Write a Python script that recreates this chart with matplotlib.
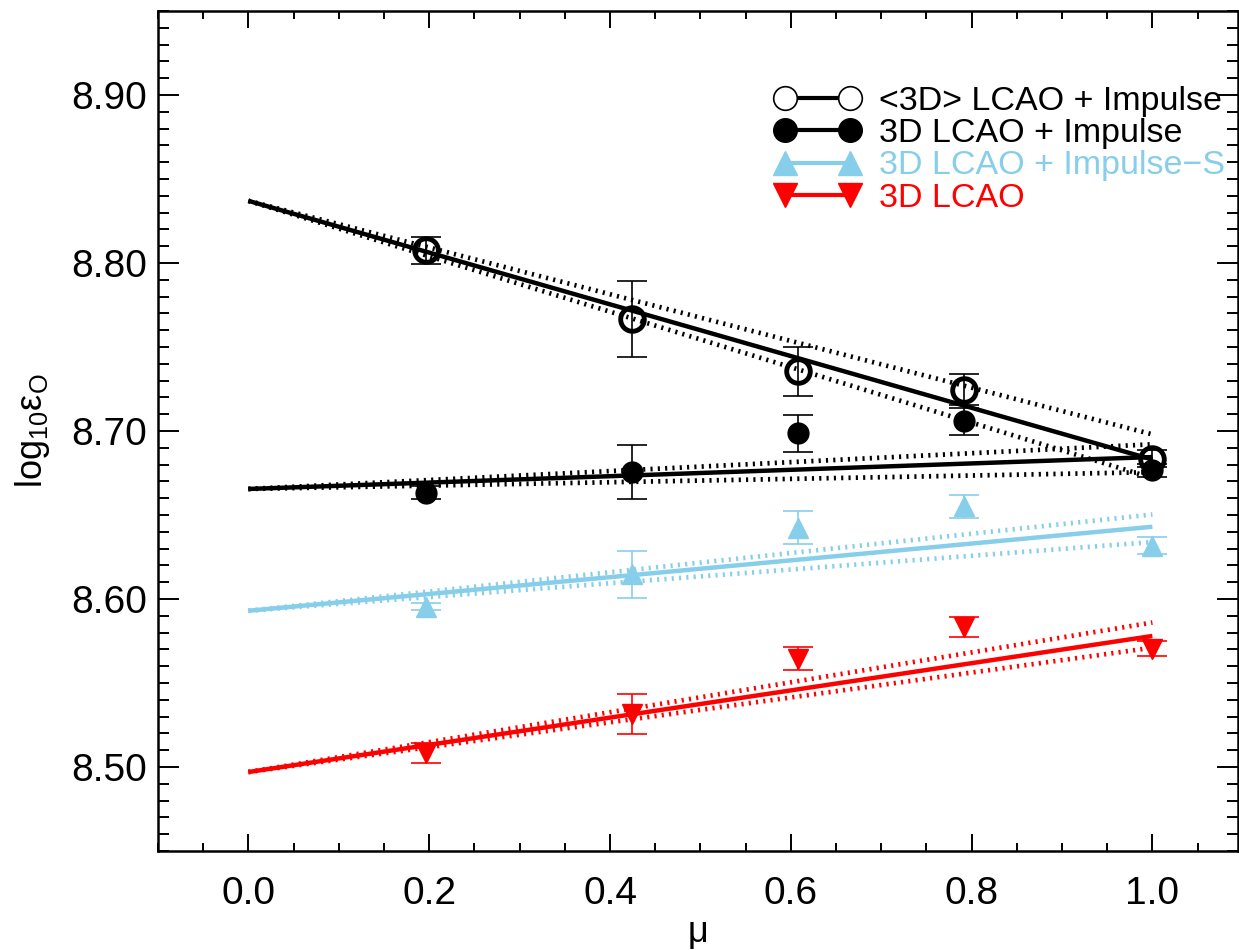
import numpy as np
import matplotlib
matplotlib.use('Agg')
import matplotlib.pyplot as plt
from matplotlib.lines import Line2D
from matplotlib.ticker import MultipleLocator, FormatStrFormatter

plt.rcParams['font.family'] = ['Liberation Sans', 'DejaVu Sans']
plt.rcParams['mathtext.fontset'] = 'custom'
plt.rcParams['mathtext.rm'] = 'Liberation Sans'
plt.rcParams['mathtext.default'] = 'regular'

# mu points
mu = [0.197, 0.424, 0.608, 0.792, 1.0]

# abundances and errors
avg3d_imp = [8.8076, 8.7665, 8.7355, 8.7247, 8.6836]
avg3d_imp_err = [0.008, 0.0227, 0.0146, 0.009, 0.005]
lcao_imp = [8.6633, 8.6754, 8.6987, 8.7057, 8.6765]
lcao_imp_err = [0.004, 0.016, 0.011, 0.008, 0.004]
lcao_imps = [8.5955, 8.6148, 8.6425, 8.6552, 8.6317]
lcao_imps_err = [0.002, 0.014, 0.010, 0.007, 0.005]
lcao = [8.5085, 8.5316, 8.5645, 8.5835, 8.5703]
lcao_err = [0.006, 0.0117, 0.007, 0.006, 0.0045]

# linear fits: intercept, slope, and slopes of the dotted bounds
fit_a = [8.837, 8.6655, 8.593, 8.497]
fit_b = [-0.154, 0.019, 0.050, 0.081]
fit_b_hi = [-0.139, 0.0266, 0.0573, 0.089]
fit_b_lo = [-0.165, 0.010, 0.0409, 0.074]

labels = ['<3D> LCAO + Impulse', '3D LCAO + Impulse', '3D LCAO + Impulse\u2212S', '3D LCAO']
colors = ['black', 'black', '#87CEEB', 'red']

fig = plt.figure(figsize=(12.39, 9.5), dpi=100)
ax = fig.add_axes([158/1239, 99/950, 1080/1239, 840/950])

xx = np.array([0.0, 1.0])
for i in range(4):
    ax.plot(xx, fit_a[i] + fit_b[i]*xx, color=colors[i], lw=3.2, solid_capstyle='butt', zorder=2)
    for b in (fit_b_hi[i], fit_b_lo[i]):
        ax.plot(xx, fit_a[i] + b*xx, color=colors[i], lw=3.4, ls=(0, (0.45, 1.1)),
                dash_capstyle='butt', zorder=2)

# error bars first, markers on top
ekw = dict(fmt='none', elinewidth=1.2, capsize=11, capthick=1.2, zorder=3)
ax.errorbar(mu, avg3d_imp, yerr=avg3d_imp_err, ecolor='black', **ekw)
ax.errorbar(mu, lcao_imp, yerr=lcao_imp_err, ecolor='black', **ekw)
ax.errorbar(mu, lcao_imps, yerr=lcao_imps_err, ecolor=colors[2], **ekw)
ax.errorbar(mu, lcao, yerr=lcao_err, ecolor='red', **ekw)

ax.plot(mu, avg3d_imp, ls='none', marker='o', ms=17, mfc='none', mec='black', mew=3.5, zorder=4)
ax.plot(mu, lcao_imp, ls='none', marker='o', ms=15, mfc='black', mec='black', zorder=4)
ax.plot(mu, lcao_imps, ls='none', marker='^', ms=15, mfc=colors[2], mec=colors[2], zorder=4)
ax.plot(mu, lcao, ls='none', marker='v', ms=15, mfc='red', mec='red', zorder=4)

ax.set_xlim(-0.1, -0.1 + 1080/904)
ax.set_ylim(8.45, 8.95)
ax.xaxis.set_major_locator(MultipleLocator(0.2))
ax.xaxis.set_minor_locator(MultipleLocator(0.05))
ax.yaxis.set_major_locator(MultipleLocator(0.1))
ax.yaxis.set_minor_locator(MultipleLocator(0.01))
ax.xaxis.set_major_formatter(FormatStrFormatter('%.1f'))
ax.yaxis.set_major_formatter(FormatStrFormatter('%.2f'))
ax.tick_params(axis='both', which='both', direction='in', top=True, right=True,
               labelsize=28, width=1.4)
ax.tick_params(axis='x', which='major', length=12, pad=18)
ax.tick_params(axis='x', which='minor', length=6)
ax.tick_params(axis='y', which='major', length=15, pad=8)
ax.tick_params(axis='y', which='minor', length=8)
for s in ax.spines.values():
    s.set_linewidth(1.8)

ax.set_xlabel('\u03bc', fontsize=26, labelpad=2)
ax.set_ylabel('$log_{10}\u03b5_O$', fontsize=26, labelpad=14)

handles = [
    Line2D([], [], color='black', lw=3, marker='o', ms=17, mfc='white', mec='black', mew=1.2),
    Line2D([], [], color='black', lw=3, marker='o', ms=17, mfc='black', mec='black'),
    Line2D([], [], color=colors[2], lw=3, marker='^', ms=17, mfc=colors[2], mec=colors[2]),
    Line2D([], [], color='red', lw=3, marker='v', ms=17, mfc='red', mec='red'),
]
leg = ax.legend(handles, labels, loc='upper left', bbox_to_anchor=(0.5715, 0.911),
                frameon=False, fontsize=24.5, numpoints=2, handlelength=2.5,
                handletextpad=0.55, labelspacing=0.04, borderpad=0, borderaxespad=0)
for t, c in zip(leg.get_texts(), colors):
    t.set_color(c)

fig.savefig('out.png', dpi=100)
